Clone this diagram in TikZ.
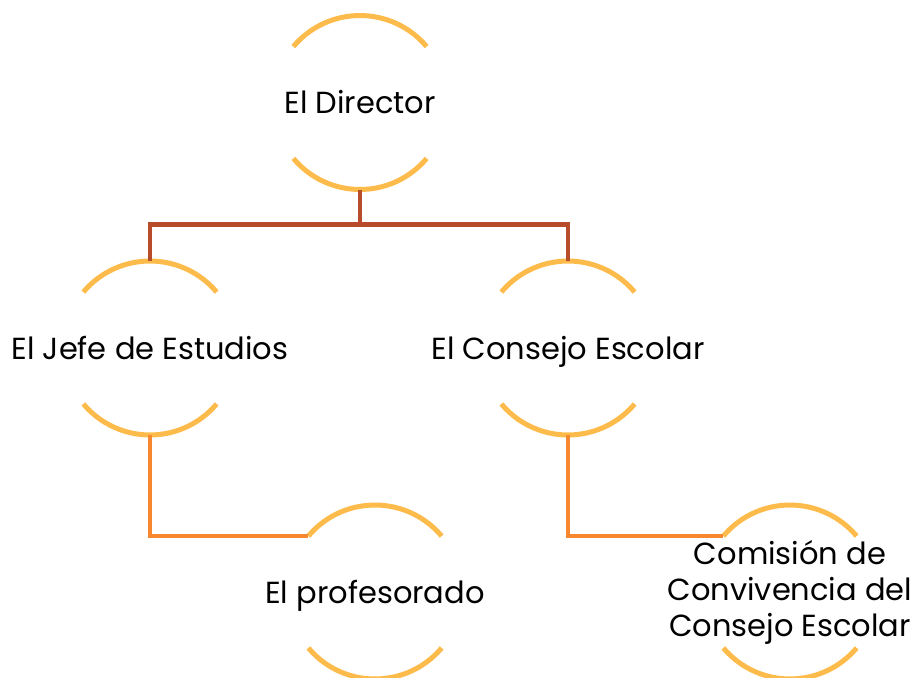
\documentclass[tikz,border=0pt]{standalone}
\usepackage{fontspec}
\setmainfont{Poppins}
\definecolor{arcc}{HTML}{FDBB4B}
\definecolor{topline}{HTML}{B84C2A}
\definecolor{lowline}{HTML}{F7882F}
\begin{document}
\begin{tikzpicture}[x=1pt,y=-1pt,
  ring/.style={circle,minimum size=174pt,inner sep=0pt,outer sep=0pt},
  lbl/.style={font=\fontsize{30.5}{36}\selectfont,align=center,text=black,inner sep=0pt},
  arcline/.style={draw=arcc,line width=5pt},
  toplink/.style={draw=topline,line width=4.5pt},
  lowlink/.style={draw=lowline,line width=4.5pt}]
\useasboundingbox (0,0) rectangle (922,678);
\node[ring] (dir) at (360,102.5) {};
\node[ring] (jefe) at (150,348) {};
\node[ring] (cons) at (568,348) {};
\node[ring] (prof) at (375,592) {};
\node[ring] (com) at (790,592) {};
\foreach \n in {dir,jefe,cons,prof,com}{
  \draw[arcline] (\n.40) arc[start angle=40,end angle=140,radius=87pt];
  \draw[arcline] (\n.-140) arc[start angle=-140,end angle=-40,radius=87pt];
}
\node[lbl,anchor=base] (tdir) at ([yshift=-11pt]dir.center) {El Director};
\node[lbl,anchor=base] (tjefe) at ([yshift=-11pt]jefe.center) {El Jefe de Estudios};
\node[lbl,anchor=base] (tcons) at ([yshift=-11pt]cons.center) {El Consejo Escolar};
\node[lbl,anchor=base] (tprof) at ([yshift=-11pt]prof.center) {El profesorado};
\node[lbl] (tcom) at (com.center) {Comisión de\\Convivencia del\\Consejo Escolar};
\coordinate (split) at ([yshift=-35pt]dir.south);
\draw[toplink] (dir.south) -- (split) -| (jefe.north);
\draw[toplink] (split) -| (cons.north);
\draw[lowlink] (jefe.south) |- (prof.140);
\draw[lowlink] (cons.south) |- (com.140);
\end{tikzpicture}
\end{document}
